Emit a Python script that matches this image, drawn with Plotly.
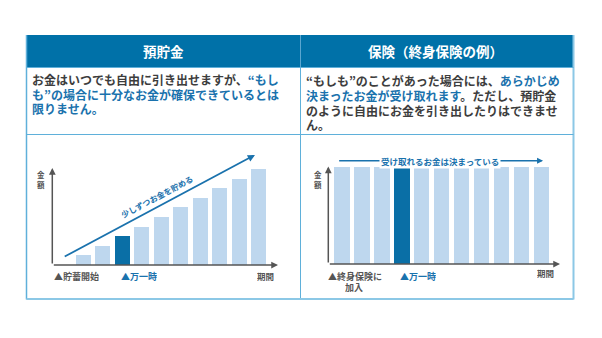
import plotly.graph_objects as go

W, H = 602, 338

# ---------------- data ----------------
savings_x = [1, 2, 3, 4, 5, 6, 7, 8, 9, 10]
savings_y = [1, 2, 3, 4, 5, 6, 7, 8, 9, 10]
savings_highlight = 3

insurance_x = [1, 2, 3, 4, 5, 6, 7, 8, 9, 10, 11]
insurance_y = [10, 10, 10, 10, 10, 10, 10, 10, 10, 10, 10]
insurance_highlight = 4

header_left = "預貯金"
header_right = "保険（終身保険の例）"

# ---------------- styles ----------------
FONT = "Noto Sans CJK JP"
HEAD_BLUE = "#0071a8"
DARK_BAR = "#0a6fa6"
LIGHT_BAR = "#bed7ee"
BORDER = "#5fb0da"
TXT_GRAY = "#3d3d3d"
TXT_BLUE = "#1a72ad"
AXIS_GRAY = "#555555"


def px(x):
    return x / W


def py(y):
    return 1 - y / H


def blue(s):
    return f"<span style='color:{TXT_BLUE}'>{s}</span>"


fig = go.Figure()

fig.add_trace(go.Bar(
    x=savings_x, y=savings_y, width=0.77,
    marker=dict(color=[DARK_BAR if v == savings_highlight else LIGHT_BAR for v in savings_x], line=dict(width=0)),
    xaxis="x", yaxis="y", hoverinfo="skip", showlegend=False,
))
fig.add_trace(go.Bar(
    x=insurance_x, y=insurance_y, width=0.77,
    marker=dict(color=[DARK_BAR if v == insurance_highlight else LIGHT_BAR for v in insurance_x], line=dict(width=0)),
    xaxis="x2", yaxis="y2", hoverinfo="skip", showlegend=False,
))

shapes = []
# header background
shapes.append(dict(type="rect", xref="paper", yref="paper", x0=px(26), x1=px(574), y0=py(67), y1=py(35),
                   fillcolor=HEAD_BLUE, line=dict(width=0), layer="below"))


def line(x0, y0, x1, y1, color=BORDER, w=1):
    shapes.append(dict(type="line", xref="paper", yref="paper", x0=px(x0), x1=px(x1), y0=py(y0), y1=py(y1),
                       line=dict(color=color, width=w)))


line(26.5, 35, 26.5, 299.5, BORDER, 1.5)
line(573.5, 35, 573.5, 299.5, "#8cc8e6", 2)
line(300.5, 35, 300.5, 67, "#5aa6d0", 1)
line(300.5, 67, 300.5, 299.5, BORDER, 1)
line(26.5, 67.5, 573.5, 67.5, BORDER, 1)
line(26.5, 134.5, 573.5, 134.5, BORDER, 1)
line(26.5, 299, 573.5, 299, "#8cc8e6", 2)

ann = []
# headers
ann.append(dict(xref="paper", yref="paper", x=px(163), y=py(51), text=f"<b>{header_left}</b>", showarrow=False,
                font=dict(family=FONT, size=13.5, color="white"), xanchor="center", yanchor="middle"))
ann.append(dict(xref="paper", yref="paper", x=px(435), y=py(51), text=f"<b>{header_right}</b>", showarrow=False,
                font=dict(family=FONT, size=13.5, color="white"), xanchor="center", yanchor="middle"))

left_lines = [
    ("お金はいつでも自由に引き出せますが、" + blue("“もし"), 78.5),
    (blue("も”の場合に十分なお金が確保できているとは"), 93.5),
    (blue("限りません。"), 108),
]
right_lines = [
    ("“もしも”のことがあった場合には、" + blue("あらかじめ"), 80),
    (blue("決まったお金が受け取れます") + "。ただし、預貯金", 95),
    ("のように自由にお金を引き出したりはできませ", 109.5),
    ("ん。", 124),
]
for t, yy in left_lines:
    ann.append(dict(xref="paper", yref="paper", x=px(31), y=py(yy), text=f"<b>{t}</b>", showarrow=False,
                    height=14, borderpad=0,
                    font=dict(family=FONT, size=12, color=TXT_GRAY), xanchor="left", yanchor="middle"))
for t, yy in right_lines:
    ann.append(dict(xref="paper", yref="paper", x=px(304.5), y=py(yy), text=f"<b>{t}</b>", showarrow=False,
                    height=14, borderpad=0,
                    font=dict(family=FONT, size=12, color=TXT_GRAY), xanchor="left", yanchor="middle"))

# axis arrows (left chart)
LX0, LX1, LY1 = -0.61, 10.96, 10.1
ann.append(dict(xref="x", yref="y", axref="x", ayref="y", x=LX0, y=LY1, ax=LX0, ay=0, text="", showarrow=True,
                arrowhead=2, arrowsize=0.9, arrowwidth=1.5, arrowcolor=AXIS_GRAY))
ann.append(dict(xref="x", yref="y", axref="x", ayref="y", x=LX1, y=0, ax=LX0, ay=0, text="", showarrow=True,
                arrowhead=2, arrowsize=0.9, arrowwidth=1.5, arrowcolor=AXIS_GRAY))
# diagonal arrow
ann.append(dict(xref="x", yref="y", axref="x", ayref="y", x=9.78, y=11.46, ax=-0.05, ay=0.8, text="", showarrow=True,
                arrowhead=2, arrowsize=0.8, arrowwidth=1.8, arrowcolor=TXT_BLUE))
ann.append(dict(xref="paper", yref="paper", x=px(157), y=py(196.5), text="<b>少しずつお金を貯める</b>", showarrow=False,
                textangle=-28, font=dict(family=FONT, size=8, color=TXT_BLUE), xanchor="center", yanchor="middle"))

# axis arrows (right chart)
RX0, RX1, RY1, RYMAX = 0.29, 11.93, 10.05, 10.8
ann.append(dict(xref="x2", yref="y2", axref="x2", ayref="y2", x=RX0, y=RY1, ax=RX0, ay=0, text="", showarrow=True,
                arrowhead=2, arrowsize=0.9, arrowwidth=1.5, arrowcolor=AXIS_GRAY))
ann.append(dict(xref="x2", yref="y2", axref="x2", ayref="y2", x=RX1, y=0, ax=RX0, ay=0, text="", showarrow=True,
                arrowhead=2, arrowsize=0.9, arrowwidth=1.5, arrowcolor=AXIS_GRAY))
# top arrow
ann.append(dict(xref="x2", yref="y2", axref="x2", ayref="y2", x=11.08, y=10.65, ax=0.76, ay=10.65, text="", showarrow=True,
                arrowhead=2, arrowsize=0.8, arrowwidth=1.5, arrowcolor=TXT_BLUE))
ann.append(dict(xref="paper", yref="paper", x=px(440), y=py(160.7), text="<b>受け取れるお金は決まっている</b>", showarrow=False,
                bgcolor="white", borderpad=1, font=dict(family=FONT, size=8.5, color=TXT_BLUE),
                xanchor="center", yanchor="middle"))

# axis labels
for xx in (41, 317.5):
    ann.append(dict(xref="paper", yref="paper", x=px(xx), y=py(179), text="<b>金<br>額</b>", showarrow=False,
                    font=dict(family=FONT, size=7.5, color=AXIS_GRAY), xanchor="center", yanchor="middle"))


def lab(x, y, t, color=AXIS_GRAY, size=9, anchor="left"):
    ann.append(dict(xref="paper", yref="paper", x=px(x), y=py(y), text=f"<b>{t}</b>", showarrow=False,
                    height=10, borderpad=0,
                    font=dict(family=FONT, size=size, color=color), xanchor=anchor, yanchor="middle"))


lab(52.5, 276, "▲貯蓄開始")
lab(119.5, 276, "▲万一時", TXT_BLUE)
lab(265, 276, "期間", AXIS_GRAY, 8.5, "center")
lab(355, 276, "▲終身保険に", AXIS_GRAY, 9, "center")
lab(354, 287, "加入", AXIS_GRAY, 9, "center")
lab(399, 276, "▲万一時", TXT_BLUE)
lab(545, 273, "期間", AXIS_GRAY, 8.5, "center")

ax_common = dict(visible=False, fixedrange=True)
r_scale = (264 - 166.5) / RY1
fig.update_layout(
    width=W, height=H, margin=dict(l=0, r=0, t=0, b=0),
    paper_bgcolor="white", plot_bgcolor="rgba(0,0,0,0)",
    xaxis=dict(domain=[px(52.3), px(278)], range=[LX0, LX1], anchor="y", **ax_common),
    yaxis=dict(domain=[py(265), py(168)], range=[0, LY1], anchor="x", **ax_common),
    xaxis2=dict(domain=[px(328.3), px(560)], range=[RX0, RX1], anchor="y2", **ax_common),
    yaxis2=dict(domain=[py(264), py(264 - RYMAX * r_scale)], range=[0, RYMAX], anchor="x2", **ax_common),
    shapes=shapes, annotations=ann, bargap=0, showlegend=False,
    font=dict(family=FONT),
)

fig.write_html("out.html", config={"displayModeBar": False})
